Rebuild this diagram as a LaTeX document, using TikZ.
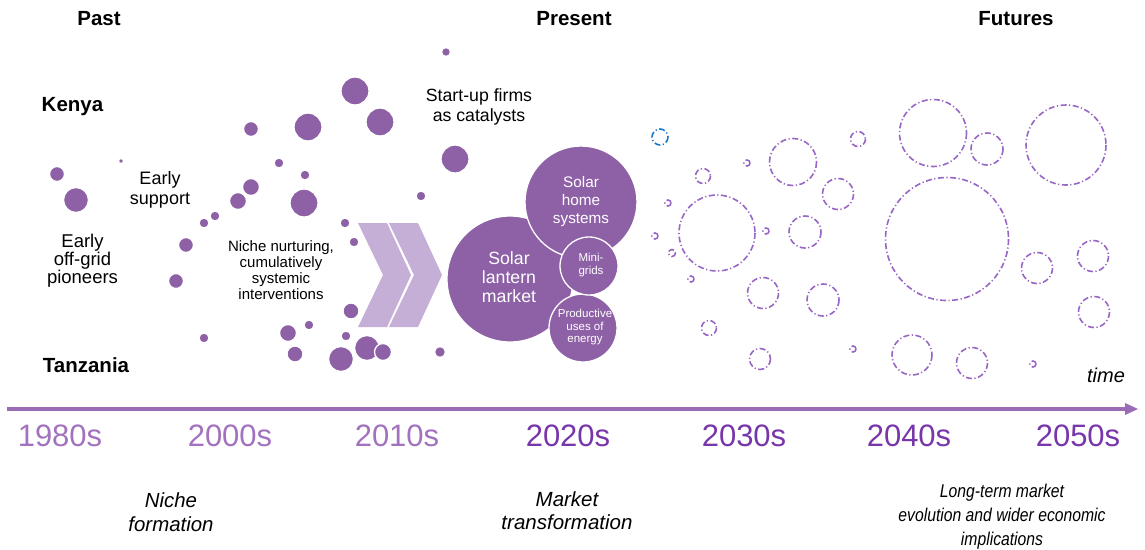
\documentclass[tikz,border=0pt]{standalone}
\usepackage{fontspec}
\setmainfont{Liberation Sans}
\newfontfamily\narrowsans{Liberation Sans}[FakeStretch=0.85]
\definecolor{bubble}{RGB}{142,97,166}
\definecolor{chevron}{RGB}{197,175,214}
\definecolor{future}{RGB}{152,102,196}
\definecolor{futureblue}{RGB}{25,120,205}
\definecolor{axis}{RGB}{155,108,182}
\definecolor{pastyear}{RGB}{163,114,190}
\definecolor{nowyear}{RGB}{120,54,170}
\begin{document}
\begin{tikzpicture}[x=1pt,y=-1pt]
\tikzstyle{every node}+=[inner sep=0pt]
\tikzstyle{dot}=[fill=bubble,draw=white,line width=1.3pt]
\tikzstyle{ring}=[draw=future,line width=1.6pt,dash pattern=on 6pt off 2.5pt on 1.2pt off 2.5pt]
\tikzstyle{head}=[font=\fontsize{20.5}{24}\selectfont\bfseries,anchor=base]
\tikzstyle{label}=[align=center,text=black]
\tikzstyle{inlabel}=[align=center,text=white]
\tikzstyle{year}=[font=\fontsize{31}{36}\selectfont,anchor=base]
\useasboundingbox (0,0) rectangle (1145,549);
\fill [chevron] (358,223) -- (387,223) -- (411,275) -- (387,327) -- (358,327) -- (383,275) -- cycle;
\fill [chevron] (389,223) -- (418,223) -- (442,275) -- (418,327) -- (389,327) -- (414,275) -- cycle;
\draw [dot] (446,52) circle (4.5);
\draw [dot] (355,91) circle (14);
\draw [dot] (380,122) circle (14);
\draw [dot] (251,129) circle (7.5);
\draw [dot] (308,127) circle (14);
\draw [dot] (455,159) circle (14);
\draw [dot] (121,161) circle (2.5);
\draw [dot] (57,174) circle (7.5);
\draw [dot] (279,163) circle (5);
\draw [dot] (305,175) circle (5);
\draw [dot] (76,200) circle (12.5);
\draw [dot] (251,187) circle (8.5);
\draw [dot] (238,201) circle (8.5);
\draw [dot] (304,203) circle (14);
\draw [dot] (421,196) circle (5);
\draw [dot] (215,216) circle (5);
\draw [dot] (204,223) circle (5);
\draw [dot] (345,223) circle (5);
\draw [dot] (354,242) circle (5);
\draw [dot] (186,245) circle (7.5);
\draw [dot] (176,281) circle (7.5);
\draw [dot] (351,311) circle (8);
\draw [dot] (204,338) circle (5);
\draw [dot] (309,325) circle (5);
\draw [dot] (288,333) circle (8.5);
\draw [dot] (346,336) circle (5);
\draw [dot] (295,354) circle (8);
\draw [dot] (341,359) circle (12.5);
\draw [dot] (367,348) circle (12.5);
\draw [dot] (383,352) circle (8.5);
\draw [dot] (440,352) circle (5.5);
\draw [dot] (510,279) circle (63);
\draw [dot] (581,202) circle (56);
\draw [dot] (583,328) circle (34);
\draw [dot] (589,266) circle (29);
\draw [ring,draw=futureblue] (660,137) circle (8);
\draw [ring] (858,139) circle (7.5);
\draw [ring] (747,163) circle (3);
\draw [ring] (793,162) circle (23.5);
\draw [ring] (703,176) circle (7.5);
\draw [ring] (838,194) circle (15.5);
\draw [ring] (668,203) circle (3);
\draw [ring] (717,233) circle (38);
\draw [ring] (655,236) circle (3);
\draw [ring] (766,231) circle (3);
\draw [ring] (805,232) circle (16);
\draw [ring] (672,253) circle (3.5);
\draw [ring] (691,279) circle (3);
\draw [ring] (763,293) circle (15.5);
\draw [ring] (823,300) circle (16);
\draw [ring] (709,328) circle (7.5);
\draw [ring] (760,359) circle (10.5);
\draw [ring] (853,349) circle (3);
\draw [ring] (933,133) circle (33.5);
\draw [ring] (987,149) circle (16);
\draw [ring] (1066,145) circle (40);
\draw [ring] (947,239) circle (61.5);
\draw [ring] (1037,268) circle (15.5);
\draw [ring] (1093,256) circle (15.5);
\draw [ring] (1094,312) circle (15.5);
\draw [ring] (912,355) circle (20);
\draw [ring] (972,363) circle (15.5);
\draw [ring] (1033,364) circle (3);
\node [head] (past) at (99,25) {Past};
\node [head] (present) at (574,25) {Present};
\node [head] (futures) at (1016,25) {Futures};
\node [head] (kenya) at (72.5,111) {Kenya};
\node [head] (tanzania) at (86,372) {Tanzania};
\node [label,font=\fontsize{18.5}{18}\selectfont] (pioneers) at (82.5,261) {Early\\off-grid\\pioneers};
\node [label,font=\fontsize{18}{20}\selectfont] (support) at (160,189.5) {Early\\support};
\node [label,font=\fontsize{15}{16}\selectfont] (nurture) at (281,270.5) {Niche nurturing,\\cumulatively\\systemic\\interventions};
\node [label,font=\fontsize{17.7}{20}\selectfont] (startup) at (479,106.5) {Start-up firms\\as catalysts};
\node [inlabel,font=\fontsize{17.7}{19}\selectfont] (lantern) at (509,277.5) {Solar\\lantern\\market};
\node [inlabel,font=\fontsize{15.3}{18}\selectfont] (homesys) at (581,202) {Solar\\home\\systems};
\node [inlabel,font=\fontsize{11.5}{13}\selectfont] (minigrid) at (591,265.5) {Mini-\\grids};
\node [inlabel,font=\fontsize{11.5}{12.5}\selectfont] (productive) at (585,327.5) {Productive\\uses of\\energy};
\node [font=\fontsize{20}{24}\selectfont\itshape,anchor=base] (time) at (1106,382) {time};
\coordinate (t0) at (7,409);
\coordinate (t1) at (1127,409);
\draw [axis,line width=4pt] (t0) -- (t1);
\fill [axis] (1138,409) -- (1125,403) -- (1125,415) -- cycle;
\node [year,text=pastyear] (y1980) at (60,446) {1980s};
\node [year,text=pastyear] (y2000) at (230,446) {2000s};
\node [year,text=pastyear] (y2010) at (397,446) {2010s};
\node [year,text=nowyear] (y2020) at (568,446) {2020s};
\node [year,text=nowyear] (y2030) at (744,446) {2030s};
\node [year,text=nowyear] (y2040) at (909,446) {2040s};
\node [year,text=nowyear] (y2050) at (1078,446) {2050s};
\node [label,font=\fontsize{20.4}{24}\selectfont\itshape] (niche) at (171,512.5) {Niche\\formation};
\node [label,font=\fontsize{20.5}{23}\selectfont\itshape] (market) at (567,511) {Market\\transformation};
\node [label,font=\narrowsans\fontsize{18.5}{24}\selectfont\itshape] (longterm) at (1002,516.3) {Long-term market\\evolution and wider economic\\implications};
\end{tikzpicture}
\end{document}
